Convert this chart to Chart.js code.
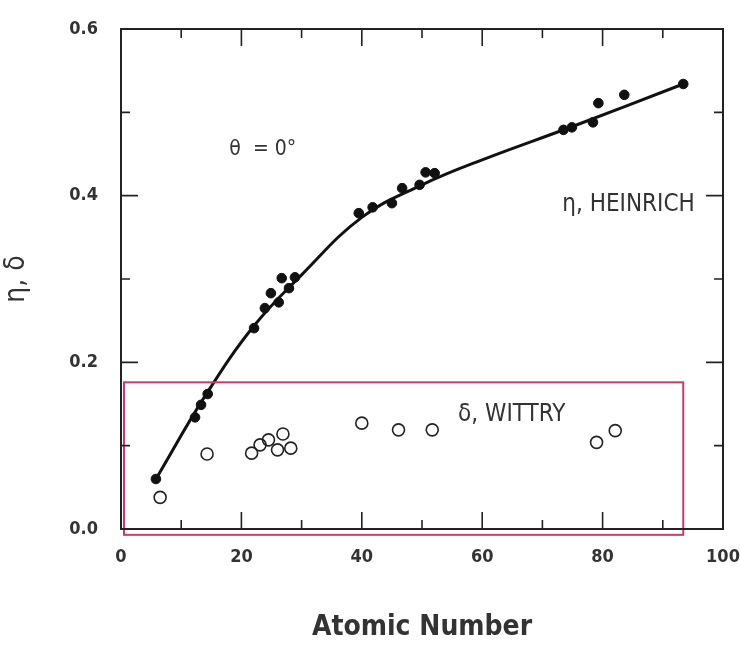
<!DOCTYPE html>
<html>
<head>
<meta charset="utf-8">
<script src="https://cdn.jsdelivr.net/npm/chart.js@4/dist/chart.umd.min.js"></script>
<style>
  html, body { margin: 0; padding: 0; background: #ffffff; }
  #wrap { width: 740px; height: 646px; }
</style>
</head>
<body>
<div id="wrap"><canvas id="c" width="740" height="646"></canvas></div>
<script>
// ---- data ----
const heinrichZ   = [5.8, 12.3, 13.3, 14.4, 22.1, 23.9, 24.9, 26.2, 26.7, 27.9, 28.9, 39.5, 41.8, 45.0, 46.7, 49.6, 50.6, 52.1, 73.5, 74.9, 78.4, 79.3, 83.6, 93.4];
const heinrichEta = [0.060, 0.134, 0.149, 0.162, 0.241, 0.265, 0.283, 0.272, 0.301, 0.289, 0.302, 0.379, 0.386, 0.391, 0.409, 0.413, 0.428, 0.427, 0.479, 0.482, 0.488, 0.511, 0.521, 0.534];

const wittryZ     = [6.5, 14.3, 21.7, 23.1, 24.5, 26.0, 26.9, 28.2, 40.0, 46.1, 51.7, 79.0, 82.1];
const wittryDelta = [0.038, 0.090, 0.091, 0.101, 0.107, 0.095, 0.114, 0.097, 0.127, 0.119, 0.119, 0.104, 0.118];

const curveZ      = [5.8, 14, 22, 30, 40, 50, 60, 75, 93.4];
const curveEta    = [0.060, 0.160, 0.243, 0.305, 0.374, 0.413, 0.443, 0.483, 0.534];

const xTicks = [0, 20, 40, 60, 80, 100];
const yTicks = [0.0, 0.2, 0.4, 0.6];

const boxX = [0.5, 93.4];      // highlighted box (data units)
const boxY = [-0.007, 0.176];

const toPts = (xs, ys) => xs.map((x, i) => ({ x: x, y: ys[i] }));

const FONT = "'DejaVu Sans Condensed', 'Liberation Sans', Arial, sans-serif";
const INK = '#222222';
const TXT = '#333333';

// frame, inward ticks, highlight box, text annotations
const decor = {
  id: 'decor',
  afterDatasetsDraw(chart) {
    const { ctx, chartArea: a, scales: { x, y } } = chart;
    ctx.save();
    // pink box
    ctx.strokeStyle = '#cc3a6c';
    ctx.lineWidth = 2;
    const bx0 = x.getPixelForValue(boxX[0]), bx1 = x.getPixelForValue(boxX[1]);
    const by0 = y.getPixelForValue(boxY[1]), by1 = y.getPixelForValue(boxY[0]);
    ctx.strokeRect(bx0, by0, bx1 - bx0, by1 - by0);

    // frame
    ctx.strokeStyle = INK;
    ctx.lineWidth = 2;
    ctx.strokeRect(a.left, a.top, a.right - a.left, a.bottom - a.top);

    // inward ticks
    ctx.lineWidth = 1.6;
    ctx.beginPath();
    for (let v = 10; v < 100; v += 10) {
      const px = x.getPixelForValue(v);
      const len = (v % 20 === 0) ? 17 : 9;
      ctx.moveTo(px, a.bottom); ctx.lineTo(px, a.bottom - len);
      ctx.moveTo(px, a.top); ctx.lineTo(px, a.top + len);
    }
    for (let k = 1; k < 6; k++) {
      const v = k / 10;
      const py = y.getPixelForValue(v);
      const len = (k % 2 === 0) ? 17 : 9;
      ctx.moveTo(a.left, py); ctx.lineTo(a.left + len, py);
      ctx.moveTo(a.right, py); ctx.lineTo(a.right - len, py);
    }
    ctx.stroke();

    // annotations
    ctx.fillStyle = TXT;
    ctx.textBaseline = 'middle';
    ctx.textAlign = 'left';
    ctx.font = "21px " + FONT;
    ctx.fillText('\u03B8  = 0\u00B0', x.getPixelForValue(18.0), y.getPixelForValue(0.455));
    ctx.font = "24px " + FONT;
    ctx.fillText('\u03B7, HEINRICH', x.getPixelForValue(73.3), y.getPixelForValue(0.389));
    ctx.fillText('\u03B4, WITTRY', x.getPixelForValue(56.0), y.getPixelForValue(0.137));
    ctx.restore();
  }
};

new Chart(document.getElementById('c'), {
  type: 'scatter',
  data: {
    datasets: [
      {
        label: 'fit',
        type: 'line',
        data: toPts(curveZ, curveEta),
        borderColor: '#111111',
        borderWidth: 3,
        pointRadius: 0,
        fill: false,
        tension: 0.4,
        order: 2
      },
      {
        label: '\u03B7, HEINRICH',
        data: toPts(heinrichZ, heinrichEta),
        pointRadius: 4.8,
        pointBackgroundColor: '#111111',
        pointBorderColor: '#111111',
        borderWidth: 1,
        order: 1
      },
      {
        label: '\u03B4, WITTRY',
        data: toPts(wittryZ, wittryDelta),
        pointRadius: 6,
        pointBackgroundColor: 'rgba(255,255,255,0)',
        pointBorderColor: '#222222',
        pointBorderWidth: 1.6,
        order: 1
      }
    ]
  },
  options: {
    responsive: false,
    animation: false,
    events: [],
    layout: { padding: { top: 29, right: 17, bottom: 0, left: 0 } },
    plugins: { legend: { display: false }, tooltip: { enabled: false } },
    scales: {
      x: {
        type: 'linear', min: 0, max: 100,
        afterBuildTicks: (s) => { s.ticks = xTicks.map(v => ({ value: v })); },
        afterFit: (s) => { s.height = 117; s.paddingLeft = 0; s.paddingRight = 0; },
        grid: { display: false, drawTicks: false },
        border: { display: false },
        ticks: { color: TXT, padding: 18, font: { family: FONT, size: 18, weight: 'bold' }, maxRotation: 0 },
        title: { display: true, text: 'Atomic Number', color: TXT,
                 font: { family: FONT, size: 28, weight: 'bold' }, padding: { top: 0, bottom: 1 } }
      },
      y: {
        type: 'linear', min: 0, max: 0.6,
        afterBuildTicks: (s) => { s.ticks = yTicks.map(v => ({ value: v })); },
        afterFit: (s) => { s.width = 121; s.paddingTop = 0; s.paddingBottom = 0; },
        grid: { display: false, drawTicks: false },
        border: { display: false },
        ticks: { color: TXT, padding: 23, font: { family: FONT, size: 18, weight: 'bold' },
                 callback: (v) => Number(v).toFixed(1) },
        title: { display: true, text: '\u03B7, \u03B4', color: TXT,
                 font: { family: FONT, size: 28 }, padding: { top: 0, bottom: 22 } }
      }
    }
  },
  plugins: [decor]
});
</script>
</body>
</html>
